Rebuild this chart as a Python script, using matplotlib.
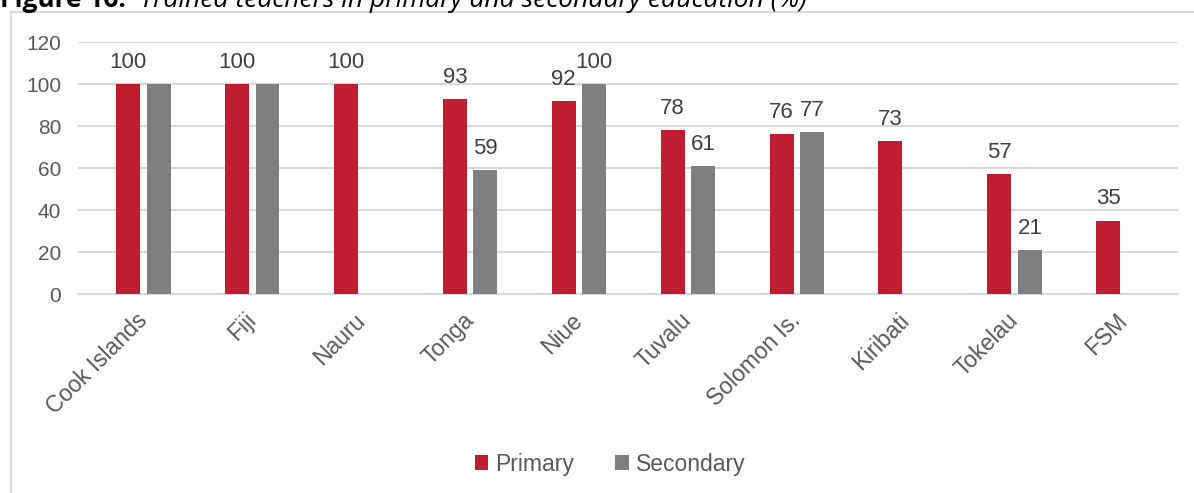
import numpy as np
import matplotlib
matplotlib.use("Agg")
import matplotlib.pyplot as plt
from matplotlib.patches import Rectangle
from matplotlib.transforms import ScaledTranslation

countries = ["Cook Islands", "Fiji", "Nauru", "Tonga", "Niue",
             "Tuvalu", "Solomon Is.", "Kiribati", "Tokelau", "FSM"]
primary = [100, 100, 100, 93, 92, 78, 76, 73, 57, 35]
secondary = [100, 100, None, 59, 100, 61, 77, None, 21, None]
# Excel hid the overlapping secondary labels for the first two groups
show_secondary_label = [False, False, False, True, True, True, True, False, True, False]
yticks = [0, 20, 40, 60, 80, 100, 120]

RED = "#BE1E2D"
GREY = "#7F7F7F"
TXT = "#404040"
TICK = "#595959"
GRID = "#D9D9D9"

plt.rcParams["font.family"] = ["Liberation Sans", "DejaVu Sans"]

W, H = 1194, 493
fig = plt.figure(figsize=(W / 100, H / 100), dpi=100)

# outer chart frame
fig.patches.append(Rectangle((11 / W, -0.01), 1.2, 1 - 12 / H + 0.01,
                             transform=fig.transFigure, fill=False,
                             edgecolor=GRID, linewidth=1.5))

# caption, cut off at the top like in the source document
fig.text(0, 1 - 7 / H, "Figure 16:", fontsize=19, fontweight="bold",
         family="Open Sans", color="black", va="baseline", ha="left")
fig.text(140 / W, 1 - 7 / H, "Trained teachers in primary and secondary education (%)",
         fontsize=19, fontstyle="italic", family="Open Sans",
         color="black", va="baseline", ha="left")

ax = fig.add_axes([78 / W, 1 - 294 / H, 1100 / W, 252 / H])

x = np.arange(len(countries))
bw = 0.22
off = 0.14

prim_x = x - off
sec_x = [xi + off for xi, v in zip(x, secondary) if v is not None]
sec_v = [v for v in secondary if v is not None]

ax.bar(prim_x, primary, width=bw, color=RED, label="Primary", zorder=3)
ax.bar(sec_x, sec_v, width=bw, color=GREY, label="Secondary", zorder=3)

for xi, v in zip(prim_x, primary):
    ax.annotate(str(v), (xi, v), xytext=(0, 8), textcoords="offset points",
                ha="center", va="bottom", fontsize=16, color=TXT)
for xi, v, show in zip(x, secondary, show_secondary_label):
    if v is not None and show:
        ax.annotate(str(v), (xi + off, v), xytext=(0, 8), textcoords="offset points",
                    ha="center", va="bottom", fontsize=16, color=TXT)

ax.set_xlim(-0.6, 9.5)
ax.set_ylim(0, 120)
ax.set_yticks(yticks)
ax.set_xticks(x)
ax.set_xticklabels(countries, rotation=45, ha="right", rotation_mode="anchor")
ax.tick_params(axis="both", length=0, labelcolor=TICK)
ax.tick_params(axis="y", pad=12, labelsize=15)
ax.tick_params(axis="x", pad=7, labelsize=16.5)

# nudge rotated labels a little left/down, like the Excel layout
shift = ScaledTranslation(-8 / 100, -5 / 100, fig.dpi_scale_trans)
for lbl in ax.get_xticklabels():
    lbl.set_transform(lbl.get_transform() + shift)

ax.grid(axis="y", color=GRID, linewidth=1.5, zorder=0)
for s in ["top", "right", "left"]:
    ax.spines[s].set_visible(False)
ax.spines["bottom"].set_color(GRID)
ax.spines["bottom"].set_linewidth(1.5)

leg = fig.legend(loc="center", bbox_to_anchor=(610 / W, 1 - 464 / H), ncol=2,
                 frameon=False, fontsize=16.5, handlelength=0.6, handleheight=0.6,
                 handletextpad=0.3, columnspacing=1.8)
for t in leg.get_texts():
    t.set_color(TICK)

fig.savefig("out.png", dpi=100)
